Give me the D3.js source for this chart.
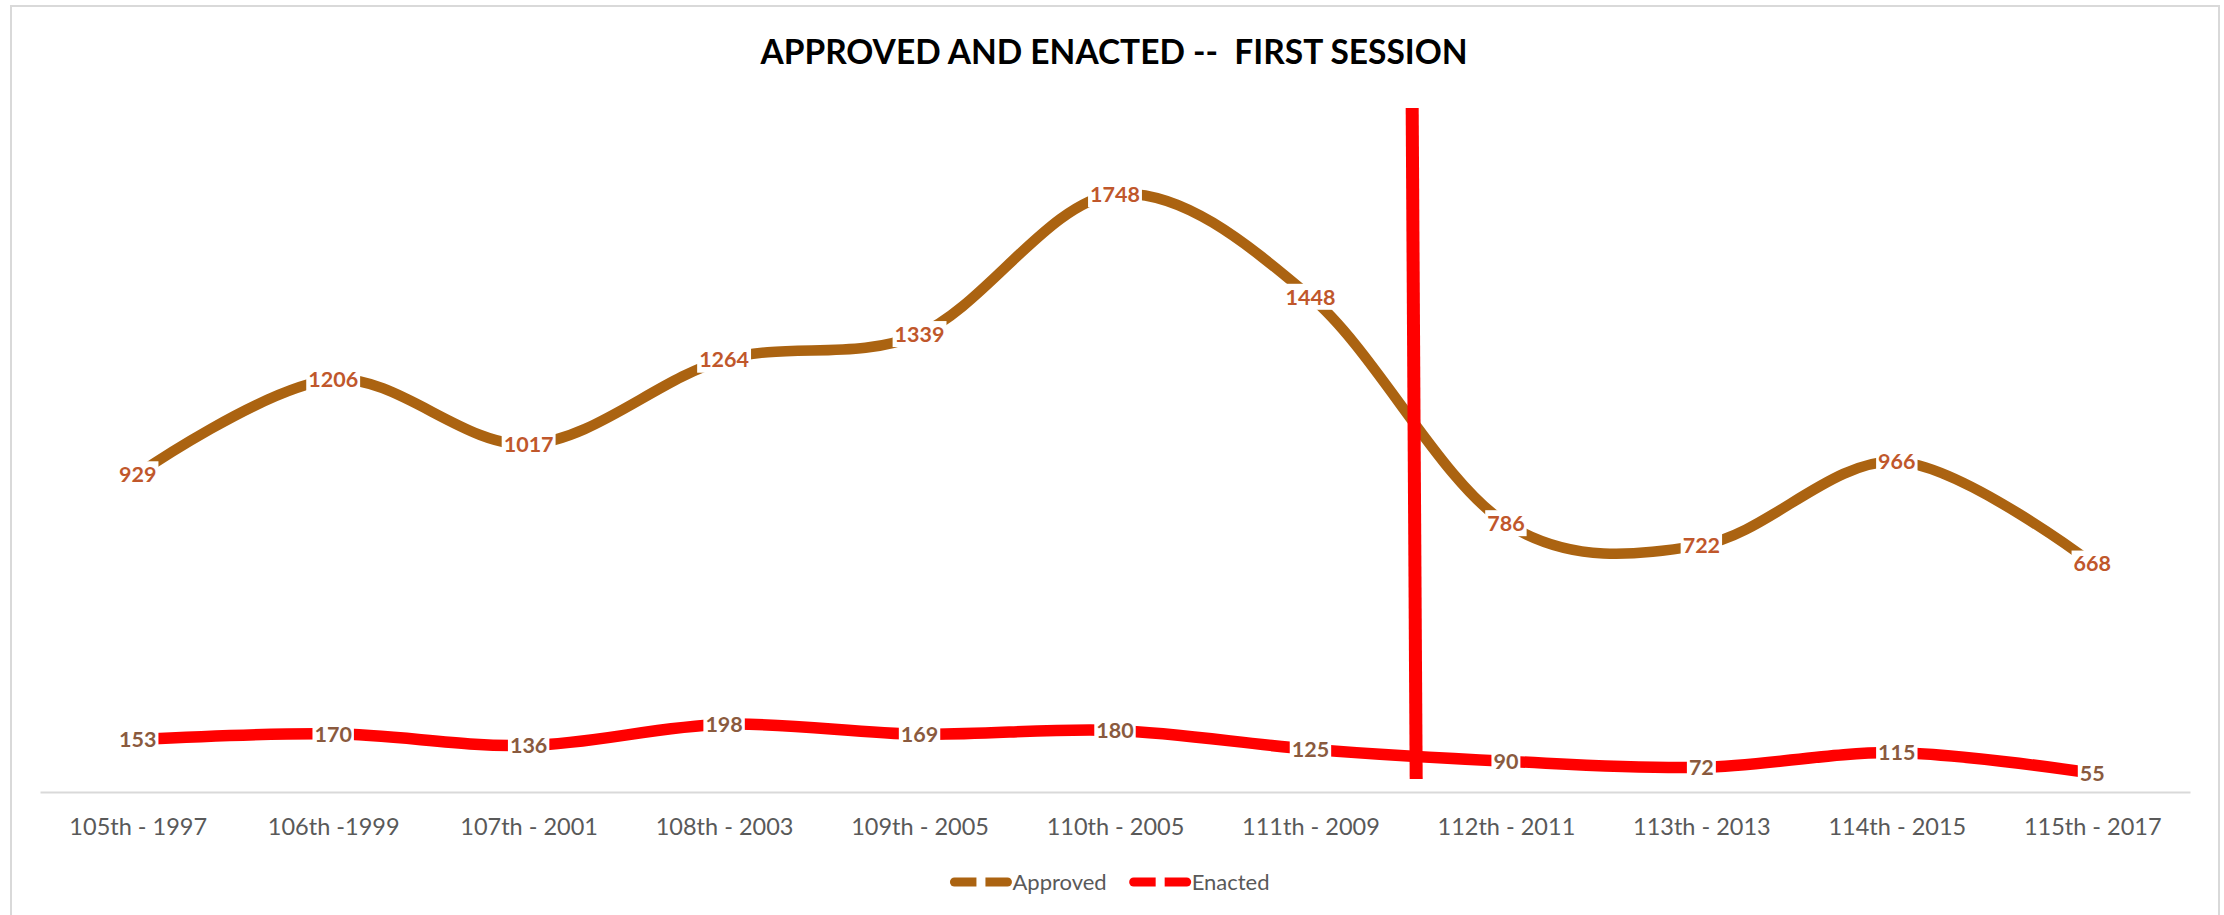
<!DOCTYPE html>
<html>
<head>
<meta charset="utf-8">
<script src="https://cdn.jsdelivr.net/npm/d3@7"></script>
<style>
  body { margin: 0; background: #fff; }
  svg { display: block; font-family: Lato, "Open Sans", sans-serif; }
</style>
</head>
<body>
<div id="chart"></div>
<script>
const categories = ["105th - 1997", "106th -1999", "107th - 2001", "108th - 2003", "109th - 2005",
  "110th - 2005", "111th - 2009", "112th - 2011", "113th - 2013", "114th - 2015", "115th - 2017"];
const approved = [929, 1206, 1017, 1264, 1339, 1748, 1448, 786, 722, 966, 668];
const enacted = [153, 170, 136, 198, 169, 180, 125, 90, 72, 115, 55];
const seriesNames = ["Approved", "Enacted"];
// marker drawn between these two sessions, spanning this value range
const dividerBetween = ["111th - 2009", "112th - 2011"];
const dividerRange = [2000, 38];
const yMax = 2000;

const W = 2224, H = 915;
const margin = { top: 108, right: 34, bottom: 123, left: 40 };

const svg = d3.select("#chart").append("svg")
  .attr("width", W)
  .attr("height", H);

// outer frame
svg.append("rect")
  .attr("x", 11).attr("y", 6)
  .attr("width", 2208).attr("height", H + 20)
  .attr("fill", "none")
  .attr("stroke", "#d9d9d9")
  .attr("stroke-width", 2);

svg.append("text")
  .attr("x", 1114)
  .attr("y", 64)
  .attr("text-anchor", "middle")
  .style("font-size", "33.5px")
  .style("font-weight", "bold")
  .style("white-space", "pre")
  .style("fill", "#000")
  .text("APPROVED AND ENACTED --  FIRST SESSION");

const x = d3.scalePoint()
  .domain(categories)
  .range([margin.left, W - margin.right])
  .padding(0.5);

const y = d3.scaleLinear()
  .domain([0, yMax])
  .range([H - margin.bottom, margin.top]);

const axis = svg.append("g")
  .attr("transform", `translate(0,${y(0)})`)
  .call(d3.axisBottom(x).tickSize(0).tickSizeOuter(0));

axis.select(".domain")
  .attr("stroke", "#d9d9d9")
  .attr("stroke-width", 2);

axis.selectAll("text")
  .attr("y", 43)
  .attr("dy", 0)
  .style("font-family", "Lato, sans-serif")
  .style("font-size", "23.5px")
  .style("fill", "#595959");

const line = d3.line()
  .x((d, i) => x(categories[i]))
  .y(d => y(d))
  .curve(d3.curveCardinal.tension(0));

const series = [
  { name: seriesNames[0], values: approved, color: "#AB6311", width: 10.5, labelColor: "#C0572B" },
  { name: seriesNames[1], values: enacted, color: "#FF0000", width: 11.5, labelColor: "#8A5A3E" }
];

series.forEach(s => {
  svg.append("path")
    .datum(s.values)
    .attr("fill", "none")
    .attr("stroke", s.color)
    .attr("stroke-width", s.width)
    .attr("d", line);
});

// data labels with white boxes that knock out the line
series.forEach(s => {
  const g = svg.append("g").attr("class", "labels");
  const lab = g.selectAll("g")
    .data(s.values)
    .enter()
    .append("g")
    .attr("transform", (d, i) => `translate(${x(categories[i])},${y(d)})`);

  lab.append("rect").attr("fill", "#fff");

  lab.append("text")
    .attr("text-anchor", "middle")
    .attr("dy", "0.36em")
    .style("font-size", "21.5px")
    .style("font-weight", "bold")
    .style("fill", s.labelColor)
    .text(d => d);

  lab.each(function() {
    const t = d3.select(this).select("text").node().getBBox();
    d3.select(this).select("rect")
      .attr("x", t.x - 2)
      .attr("y", -13)
      .attr("width", t.width + 4)
      .attr("height", 26);
  });
});

// red divider
const divX = (x(dividerBetween[0]) + x(dividerBetween[1])) / 2;
svg.append("line")
  .attr("x1", divX + 4)
  .attr("x2", divX + 8)
  .attr("y1", y(dividerRange[0]))
  .attr("y2", y(dividerRange[1]))
  .attr("stroke", "#FF0000")
  .attr("stroke-width", 13);

// legend
const legend = svg.append("g").attr("class", "legend");
const legendY = 882;
let lx = 0;
series.forEach(s => {
  const g = legend.append("g").attr("transform", `translate(${lx},0)`);
  g.append("line")
    .attr("x1", 4).attr("x2", 57)
    .attr("y1", legendY).attr("y2", legendY)
    .attr("stroke", s.color)
    .attr("stroke-width", 9)
    .attr("stroke-linecap", "round");
  g.append("rect")
    .attr("x", 26).attr("y", legendY - 6)
    .attr("width", 9).attr("height", 12)
    .attr("fill", "#fff");
  const t = g.append("text")
    .attr("x", 62)
    .attr("y", legendY)
    .attr("dy", "0.36em")
    .style("font-size", "22px")
    .style("fill", "#595959")
    .text(s.name);
  lx += 62 + t.node().getComputedTextLength() + 23;
});
const lw = lx - 23;
legend.attr("transform", `translate(${(W - lw) / 2 - 2},0)`);
</script>
</body>
</html>
